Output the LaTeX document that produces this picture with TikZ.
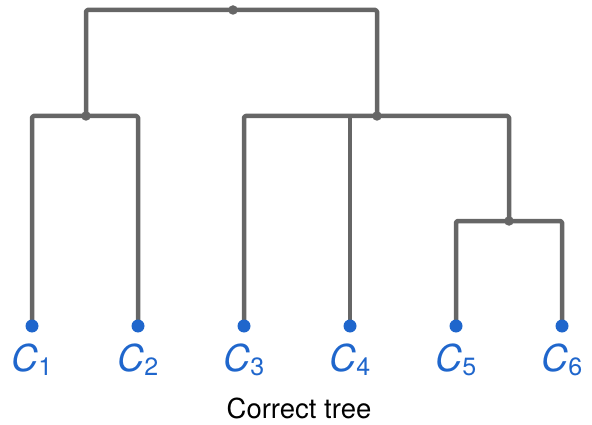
\documentclass[tikz,border=0pt]{standalone}
\usepackage{fontspec}
\setmainfont{TeX Gyre Heros}
\usepackage{tikz}
\usetikzlibrary{backgrounds}
\definecolor{branch}{HTML}{666666}
\definecolor{leafblue}{HTML}{1F66CC}

\begin{document}
\begin{tikzpicture}[
  x=1pt, y=1pt,
  edge/.style={draw=branch, line width=4.5pt, line join=round, rounded corners=1.5pt},
  leaf/.style={circle, fill=leafblue, inner sep=0pt, minimum size=13pt},
  joint/.style={circle, fill=branch, inner sep=0pt, minimum size=9.5pt},
  lbl/.style={text=leafblue, anchor=base, inner sep=0pt,
              font=\fontsize{37}{42}\selectfont}
]
  \useasboundingbox (0,0) rectangle (592,424);

  % leaves
  \foreach \i/\x in {1/32,2/138,3/244,4/350,5/456,6/562}
    \node[leaf] (c\i) at (\x,98) {};
  \foreach \i in {1,...,6}
    \node[lbl] (l\i) at (c\i |- 0,53)
      {\itshape C\upshape\raisebox{-4pt}{\fontsize{25}{25}\selectfont\i}};

  % merge points
  \node[joint] (j12)   at (86,308)  {};
  \node[joint] (j56)   at (509,203) {};
  \node[joint] (j3456) at (377,308) {};
  \node[joint] (root)  at (233,414) {};

  \begin{scope}[on background layer]
    \draw[edge] (c1.center) |- (j12.center) -| (c2.center);
    \draw[edge] (c5.center) |- (j56.center) -| (c6.center);
    \draw[edge] (c3.center) |- (j3456.center) -| (j56.center);
    \draw[edge] (c4.center) -- (c4.center |- j3456.center);
    \draw[edge] (j12.center) |- (root.center) -| (j3456.center);
  \end{scope}

  \node[anchor=base, font=\fontsize{27.5}{32}\selectfont] (cap) at (299,6) {Correct tree};
\end{tikzpicture}
\end{document}
